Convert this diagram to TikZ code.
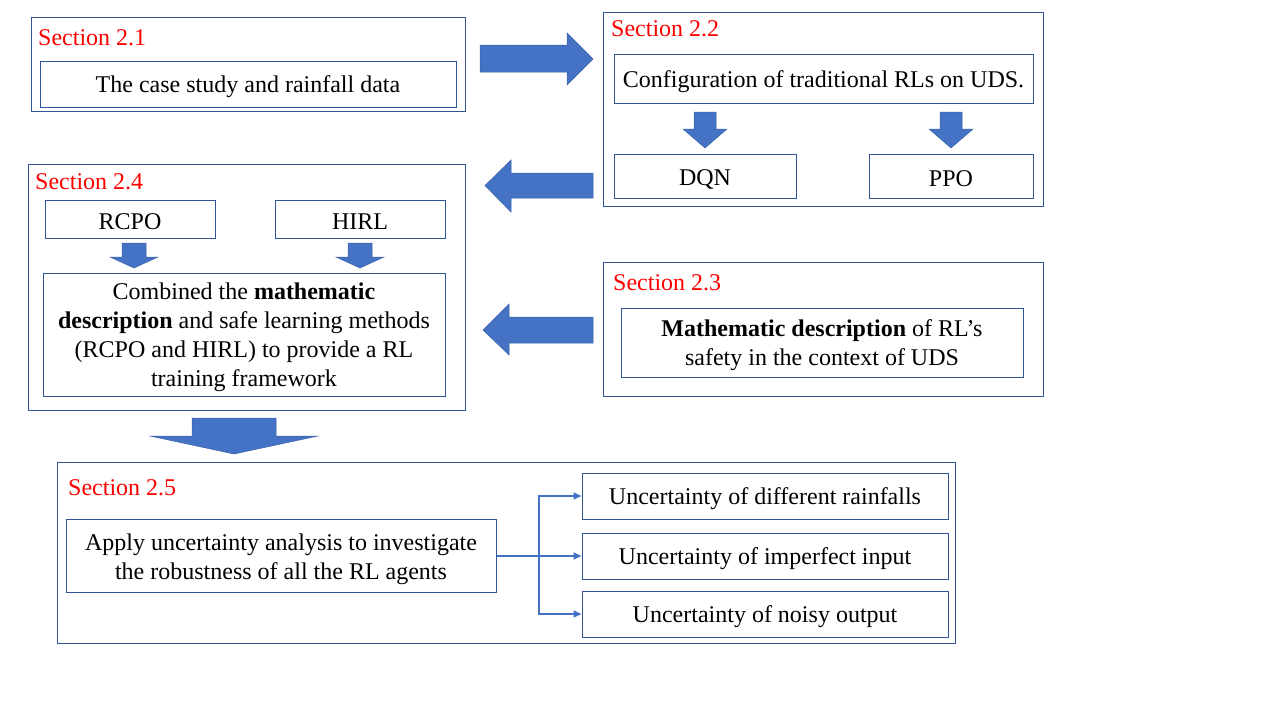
\documentclass[tikz,border=0pt]{standalone}
\usepackage{fontspec}
\setmainfont{Liberation Serif}
\usetikzlibrary{arrows.meta}
\definecolor{boxblue}{HTML}{2F5597}
\definecolor{arrfill}{HTML}{4472C4}
\definecolor{arredge}{HTML}{3A62AA}
\definecolor{secred}{HTML}{FF0000}
\tikzset{
  box/.style={draw=boxblue, line width=1pt, fill=white, inner sep=0pt},
  txt/.style={inner sep=0pt, align=center, yshift=-3pt, font=\fontsize{24}{29}\selectfont},
  seclabel/.style={inner sep=0pt, anchor=base west, text=secred, font=\fontsize{24}{29}\selectfont},
  blockarrow/.style={fill=arrfill, draw=arredge, line width=0.5pt},
  conn/.style={draw=arrfill, line width=2pt, -{Triangle[length=8pt,width=7pt]}},
  connline/.style={draw=arrfill, line width=2pt}
}
\begin{document}
\begin{tikzpicture}[x=1pt,y=-1pt]
\useasboundingbox[fill=white] (0,0) rectangle (1280,720);

% Section 2.1
\node[box, minimum width=434pt, minimum height=94pt] (s21) at (248,64) {};
\node[seclabel] (l21) at (38,45) {Section 2.1};
\node[box, minimum width=416pt, minimum height=46pt] (b21) at (248,84) {};
\node[txt] (t21) at (b21.center) {The case study and rainfall data};

% Section 2.2
\node[box, minimum width=440pt, minimum height=194pt] (s22) at (823,109) {};
\node[seclabel] (l22) at (611,36) {Section 2.2};
\node[box, minimum width=419pt, minimum height=49pt] (b22) at (823.5,78.5) {};
\node[txt] (t22) at (b22.center) {Configuration of traditional RLs on UDS.};
\node[box, minimum width=182pt, minimum height=44pt] (dqn) at (705,176) {};
\node[txt] (tdqn) at (dqn.center) {DQN};
\node[box, minimum width=164pt, minimum height=44pt] (ppo) at (951,176) {};
\node[txt] (tppo) at (ppo.center) {PPO};

% Section 2.4
\node[box, minimum width=437pt, minimum height=246pt] (s24) at (246.5,287) {};
\node[seclabel] (l24) at (35,189) {Section 2.4};
\node[box, minimum width=170pt, minimum height=38pt] (rcpo) at (130,219) {};
\node[txt] (trcpo) at (rcpo.center) {RCPO};
\node[box, minimum width=170pt, minimum height=38pt] (hirl) at (360,219) {};
\node[txt] (thirl) at (hirl.center) {HIRL};
\node[box, minimum width=402pt, minimum height=123pt] (comb) at (244,334.5) {};
\node[txt] (tcomb) at (comb.center)
  {Combined the \textbf{mathematic}\\ \textbf{description} and safe learning methods\\ (RCPO and HIRL) to provide a RL\\ training framework};

% Section 2.3
\node[box, minimum width=440pt, minimum height=134pt] (s23) at (823,329) {};
\node[seclabel] (l23) at (613,290) {Section 2.3};
\node[box, minimum width=402pt, minimum height=69pt] (b23) at (822,342.5) {};
\node[txt] (t23) at (b23.center)
  {\textbf{Mathematic description} of RL’s\\ safety in the context of UDS};

% Section 2.5
\node[box, minimum width=898pt, minimum height=181pt] (s25) at (506,552.5) {};
\node[seclabel] (l25) at (68,495) {Section 2.5};
\node[box, minimum width=430pt, minimum height=73pt] (apply) at (281,556) {};
\node[txt] (tapply) at (apply.center)
  {Apply uncertainty analysis to investigate\\ the robustness of all the RL agents};
\node[box, minimum width=366pt, minimum height=46pt] (u1) at (765,496) {};
\node[txt] (tu1) at (u1.center) {Uncertainty of different rainfalls};
\node[box, minimum width=366pt, minimum height=46pt] (u2) at (765,556) {};
\node[txt] (tu2) at (u2.center) {Uncertainty of imperfect input};
\node[box, minimum width=366pt, minimum height=46pt] (u3) at (765,614) {};
\node[txt] (tu3) at (u3.center) {Uncertainty of noisy output};

% connectors
\coordinate (j) at (539,556);
\draw[connline] (apply.east) -- (j);
\draw[conn] (j) |- (u1.west);
\draw[conn] (j) -- (u2.west);
\draw[conn] (j) |- (u3.west);

% block arrows
\draw[blockarrow] (480,45) -- (567,45) -- (567,33) -- (593,59) -- (567,85) -- (567,72) -- (480,72) -- cycle;
\draw[blockarrow] (593,173) -- (511,173) -- (511,160) -- (485,185.5) -- (511,212) -- (511,198) -- (593,198) -- cycle;
\draw[blockarrow] (593,317) -- (509,317) -- (509,304) -- (483,330) -- (509,355) -- (509,343) -- (593,343) -- cycle;
\draw[blockarrow] (192,418) -- (276,418) -- (276,436) -- (318,436) -- (234,454) -- (150,436) -- (192,436) -- cycle;
% small arrows section 2.2
\draw[blockarrow] (694,112) -- (716,112) -- (716,129) -- (727,129) -- (705,148) -- (683,129) -- (694,129) -- cycle;
\draw[blockarrow] (940,112) -- (962,112) -- (962,129) -- (973,129) -- (951,148) -- (929,129) -- (940,129) -- cycle;
% small arrows section 2.4
\draw[blockarrow] (122,243) -- (146,243) -- (146,257) -- (158,257) -- (134,268) -- (110,257) -- (122,257) -- cycle;
\draw[blockarrow] (348,243) -- (372,243) -- (372,257) -- (384,257) -- (360,268) -- (336,257) -- (348,257) -- cycle;
\end{tikzpicture}
\end{document}
